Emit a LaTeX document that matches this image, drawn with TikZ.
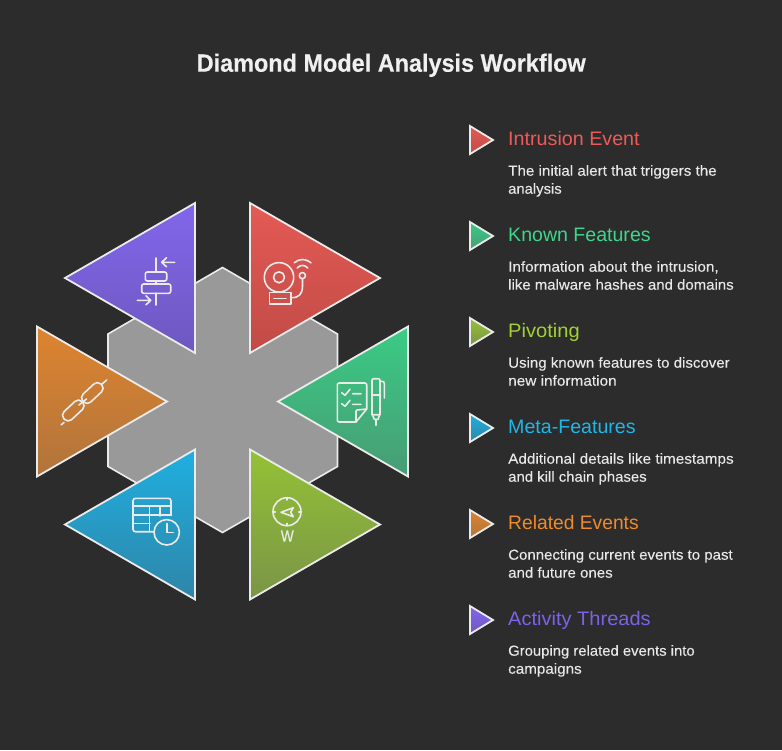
\documentclass[tikz,border=0pt]{standalone}
\usepackage{fontspec}
\usepackage{graphicx}
\setmainfont{Liberation Sans}
\newfontfamily\descfont[FakeBold=0.15]{Liberation Sans}
\newfontfamily\titlefont[FakeBold=0.35]{Liberation Sans Bold}
\definecolor{bgc}{HTML}{2C2C2C}
\definecolor{hexc}{HTML}{999999}
\definecolor{redT}{HTML}{E55A55}\definecolor{redB}{HTML}{C04B46}\definecolor{redH}{HTML}{EE5A5A}
\definecolor{grnT}{HTML}{3ACB85}\definecolor{grnB}{HTML}{489C74}\definecolor{grnH}{HTML}{3DD68C}
\definecolor{olvT}{HTML}{94C236}\definecolor{olvB}{HTML}{7A9447}\definecolor{olvH}{HTML}{A3D133}
\definecolor{bluT}{HTML}{1FAFE0}\definecolor{bluB}{HTML}{2F85A8}\definecolor{bluH}{HTML}{1FB6E8}
\definecolor{ornT}{HTML}{DE842F}\definecolor{ornB}{HTML}{B0743C}\definecolor{ornH}{HTML}{F08A2E}
\definecolor{purT}{HTML}{8266EC}\definecolor{purB}{HTML}{6E58BE}\definecolor{purH}{HTML}{7C62E8}
\definecolor{txtc}{HTML}{E8E8E8}
\newcommand\fitw[2]{\resizebox{#1pt}{\height}{#2}}
\tikzset{
  tri/.style 2 args={top color=#1,bottom color=#2,draw=white!92!black,line width=1.8pt,line join=miter,miter limit=10},
  smalltri/.style 2 args={top color=#1,bottom color=#2,draw=white!92!black,line width=1.8pt,line join=miter,miter limit=10},
  icon/.style={draw=white!92!black,line width=1.6pt,line cap=round,line join=round},
  titletext/.style={anchor=base west,inner sep=0pt,text=white!94!black,font=\titlefont\fontsize{25}{25}\selectfont},
  headtext/.style={anchor=base west,inner sep=0pt,font=\fontsize{19.5}{20}\selectfont},
  desctext/.style={anchor=base west,inner sep=0pt,text=txtc,font=\descfont\fontsize{14.5}{15}\selectfont},
  wtext/.style={anchor=base west,inner sep=0pt,text=white!92!black,font=\descfont\fontsize{16.5}{17}\selectfont}
}
\begin{document}
\begin{tikzpicture}[x=1pt,y=-1pt]
\useasboundingbox (0,0) rectangle (782,750);
\fill[bgc] (0,0) rectangle (782,750);
\node[titletext] (title) at (196.5,71.7) {\fitw{389}{Diamond Model Analysis Workflow}};
% central hexagon
\draw[fill=hexc,draw=white!92!black,line width=1.6pt,line join=miter] (222.5,267.5) -- (337.5,334) -- (337.5,466.5) -- (222.5,532.5) -- (108,466.5) -- (108,334) -- cycle;
% triangles
\draw[tri={redT}{redB}] (250,203) -- (380,278) -- (250,353) -- cycle;
\draw[tri={grnT}{grnB}] (408,326.5) -- (278,401.5) -- (408,476.5) -- cycle;
\draw[tri={olvT}{olvB}] (250,449.5) -- (380,524.5) -- (250,599.5) -- cycle;
\draw[tri={bluT}{bluB}] (195,449.5) -- (65,524.5) -- (195,599.5) -- cycle;
\draw[tri={ornT}{ornB}] (37,326.5) -- (167,401.5) -- (37,476.5) -- cycle;
\draw[tri={purT}{purB}] (195,203) -- (65,278) -- (195,353) -- cycle;
% icon: align (purple)
\draw[icon] (156,258) -- (156,272) (156,281) -- (156,284) (156,293.3) -- (156,305);
\draw[icon,rounded corners=2pt] (145.3,272) rectangle (166.7,281);
\draw[icon,rounded corners=2pt] (141.7,284) rectangle (170.7,293.3);
\draw[icon] (174.7,262.3) -- (161.7,262.3) (166.5,257.8) -- (161.7,262.3) -- (166.5,266.8);
\draw[icon] (137.3,300.3) -- (150.7,300.3) (146,295.8) -- (150.7,300.3) -- (146,304.8);
% icon: chain (orange)
\draw[icon,shift={(92.3,393)},rotate=43,rounded corners=5pt] (-12.5,-5.5) rectangle (12.5,5.5);
\draw[icon,shift={(73.3,410.5)},rotate=43,rounded corners=5pt] (-12.5,-5.5) rectangle (12.5,5.5);
\draw[icon] (86.5,399) -- (79,405);
\draw[icon] (101.5,384.5) -- (106.7,380);
\draw[icon] (64,422.5) -- (61.2,424.8);
% icon: bell (red)
\draw[icon] (279,277.3) circle[radius=14.7];
\draw[icon] (279,277.3) circle[radius=5.5];
\draw[icon] (269.3,292.3) rectangle (290.7,304);
\draw[icon] (274,298.3) -- (286,298.3);
\draw[icon] (290.7,297.7) .. controls (299,298) and (302.5,294) .. (302.5,286) -- (302.5,279);
\draw[icon] (302.4,275.6) circle[radius=3.1];
\draw[icon] (297.2,268) .. controls (300,264.6) and (305,264.6) .. (307.8,268);
\draw[icon] (294.3,262.8) .. controls (299,258.4) and (306,258.4) .. (311,262.8);
% icon: checklist and pen (green)
\draw[icon] (356,422) -- (339.3,422) .. controls (338,422) and (337.3,421.3) .. (337.3,420) -- (337.3,385) .. controls (337.3,383.7) and (338,383) .. (339.3,383) -- (364.7,383) .. controls (366,383) and (366.7,383.7) .. (366.7,385) -- (366.7,409) -- cycle;
\draw[icon] (356,422) -- (356,411) .. controls (356,410.3) and (356.5,410) .. (357,410) -- (366.7,409);
\draw[icon] (341.7,392.7) -- (345,395.3) -- (350,389.3) (352.7,393.7) -- (361,393.7);
\draw[icon] (341.7,403.7) -- (345,406.3) -- (350,400.3) (352.7,404.3) -- (361,404.3);
\draw[icon] (372,414.7) -- (372,380.5) .. controls (372,379.2) and (372.7,378.7) .. (374,378.7) -- (378,378.7) .. controls (379.3,378.7) and (380,379.2) .. (380,380.5) -- (380,414.7) -- cycle;
\draw[icon] (372,394.7) -- (380,394.7);
\draw[icon] (372.4,414.7) -- (374.3,419.3) -- (378,419.3) -- (379.7,414.7);
\draw[icon] (376.2,419.3) -- (376.2,425.3);
\draw[icon] (380,381.3) -- (382,381.3) .. controls (383.6,381.3) and (384.3,382) .. (384.3,383.6) -- (384.3,398);
% icon: compass (olive)
\draw[icon] (287,511.7) circle[radius=14];
\draw[icon] (287,497.7) -- (287,500) (287,525.7) -- (287,523.4) (273,511.7) -- (275.3,511.7) (301,511.7) -- (298.7,511.7);
\draw[icon] (281,512.3) -- (293.3,507.7) -- (290.7,512.3) -- (293.3,516.7) -- cycle;
\node[wtext] (compassW) at (280.6,541.7) {\fitw{13}{W}};
% icon: table and clock (blue)
\draw[icon] (153,531.7) -- (135.5,531.7) .. controls (134,531.7) and (133,530.7) .. (133,529.2) -- (133,501) .. controls (133,499) and (134,498.3) .. (136,498.3) -- (168,498.3) .. controls (170,498.3) and (171,499) .. (171,501) -- (171,515.5);
\draw[icon] (133,506) -- (171,506) (133,515) -- (171,515) (133,523.3) -- (150,523.3);
\draw[icon] (149.3,506) -- (149.3,531.7) (160,506) -- (160,516);
\draw[icon] (166.7,532.3) circle[radius=12.7];
\draw[icon] (166.7,523.5) -- (166.7,532.3) -- (173.3,532.3);
% legend
\draw[smalltri={redT}{redB}] (470,126) -- (493,140) -- (470,154) -- cycle;
\draw[smalltri={grnT}{grnB}] (470,222) -- (493,236) -- (470,250) -- cycle;
\draw[smalltri={olvT}{olvB}] (470,318) -- (493,332) -- (470,346) -- cycle;
\draw[smalltri={bluT}{bluB}] (470,414) -- (493,428) -- (470,442) -- cycle;
\draw[smalltri={ornT}{ornB}] (470,510) -- (493,524) -- (470,538) -- cycle;
\draw[smalltri={purT}{purB}] (470,606) -- (493,620) -- (470,634) -- cycle;
\node[headtext,text=redH] (h1) at (508,145) {\fitw{131.5}{Intrusion Event}};
\node[desctext] (d1a) at (508,175.7) {\fitw{208.5}{The initial alert that triggers the}};
\node[desctext] (d1b) at (508,193.7) {\fitw{53.5}{analysis}};
\node[headtext,text=grnH] (h2) at (508,241) {\fitw{142.5}{Known Features}};
\node[desctext] (d2a) at (508,271.7) {\fitw{210.5}{Information about the intrusion,}};
\node[desctext] (d2b) at (508,289.7) {\fitw{225.5}{like malware hashes and domains}};
\node[headtext,text=olvH] (h3) at (508,337) {\fitw{71.5}{Pivoting}};
\node[desctext] (d3a) at (508,367.7) {\fitw{221.5}{Using known features to discover}};
\node[desctext] (d3b) at (508,385.7) {\fitw{108.5}{new information}};
\node[headtext,text=bluH] (h4) at (508,433) {\fitw{127.5}{Meta-Features}};
\node[desctext] (d4a) at (508,463.7) {\fitw{225.5}{Additional details like timestamps}};
\node[desctext] (d4b) at (508,481.7) {\fitw{138.5}{and kill chain phases}};
\node[headtext,text=ornH] (h5) at (508,529) {\fitw{130.5}{Related Events}};
\node[desctext] (d5a) at (508,559.7) {\fitw{224.5}{Connecting current events to past}};
\node[desctext] (d5b) at (508,577.7) {\fitw{104.5}{and future ones}};
\node[headtext,text=purH] (h6) at (508,625) {\fitw{142.5}{Activity Threads}};
\node[desctext] (d6a) at (508,655.7) {\fitw{186.5}{Grouping related events into}};
\node[desctext] (d6b) at (508,673.7) {\fitw{73.5}{campaigns}};
\end{tikzpicture}
\end{document}
